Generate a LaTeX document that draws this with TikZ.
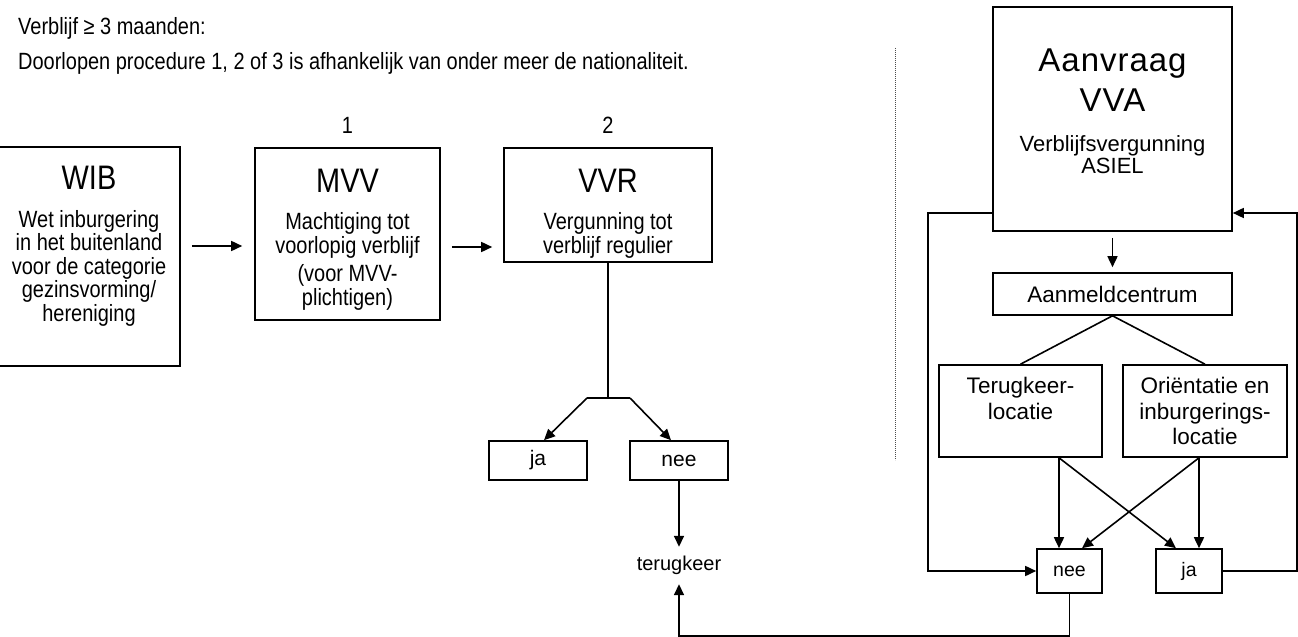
\documentclass[tikz,border=0pt]{standalone}
\usepackage{fontspec}
\setmainfont{Liberation Sans}
\newfontfamily\smalfont{Liberation Sans}[FakeStretch=0.85]
\newfontfamily\breedfont{Liberation Sans}[LetterSpace=3]
\usetikzlibrary{arrows.meta}
\tikzset{
  vak/.style={draw,line width=1.6bp,inner sep=0pt,align=center},
  links/.style={vak,font=\smalfont\fontsize{23.5bp}{23.5bp}\selectfont},
  rechts/.style={vak,font=\fontsize{22bp}{25.5bp}\selectfont},
  tekst/.style={inner sep=0pt,font=\smalfont\fontsize{23.5bp}{23.5bp}\selectfont},
  lijn/.style={line width=1.6bp},
  pijl/.style={lijn,-{Triangle[length=11bp,width=10bp]}}
}
\newcommand{\kop}[1]{{\fontsize{34bp}{34bp}\selectfont #1}}
\newcommand{\grootkop}[1]{{\breedfont\fontsize{33bp}{40bp}\selectfont #1}}

\begin{document}
\begin{tikzpicture}[x=1bp,y=-1bp]
      \useasboundingbox (0,0) rectangle (1298,637);

      % tekst boven
      \node[tekst,anchor=west] (regel1) at (18,28) {Verblijf ≥ 3 maanden:};
      \node[tekst,anchor=west] (regel2) at (18,63) {Doorlopen procedure 1, 2 of 3 is afhankelijk van onder meer de nationaliteit.};
      \node[tekst] (nr1) at (347.5,125) {1};
      \node[tekst] (nr2) at (608,125) {2};

      % regulier
      \node[links,minimum width=182bp,minimum height=219bp] (WIB) at (89,256.5)
        {\kop{WIB}\\[14bp] Wet inburgering\\ in het buitenland\\ voor de categorie\\ gezinsvorming/\\ hereniging\\[2bp]\mbox{}};
      \node[links,minimum width=185bp,minimum height=172bp] (MVV) at (347.5,234)
        {\kop{\rule{0pt}{34bp}MVV}\\[14bp] Machtiging tot\\ voorlopig verblijf\\[5bp] (voor MVV-\\ plichtigen)};
      \node[links,minimum width=208bp,minimum height=114bp] (VVR) at (608,205)
        {\kop{\rule{0pt}{40bp}VVR}\\[14bp] Vergunning tot\\ verblijf regulier};
      \node[vak,font=\fontsize{21bp}{24bp}\selectfont,minimum width=98bp,minimum height=39bp] (ja1) at (538,460.5) {ja};
      \node[vak,font=\fontsize{21bp}{24bp}\selectfont,minimum width=98bp,minimum height=39bp] (nee1) at (679,460.5) {nee};
      \node[inner sep=0pt,font=\fontsize{20bp}{24bp}\selectfont,minimum height=37bp] (terug) at (679,565.5) {terugkeer};
      \coordinate (splits) at (608,398);

      \draw[pijl] (WIB.east |- 0,246) ++(11,0) -- ([xshift=-12bp]MVV.west |- 0,246);
      \draw[pijl] (MVV.east |- 0,247) ++(11,0) -- ([xshift=-11bp]VVR.west |- 0,247);
      \draw[lijn] (VVR.south) -- (splits);
      \draw[lijn] ([xshift=-21bp]splits) -- ([xshift=22bp]splits);
      \draw[pijl] ([xshift=-21bp]splits) -- ([xshift=6bp]ja1.north);
      \draw[pijl] ([xshift=22bp]splits) -- ([xshift=-8bp]nee1.north);
      \draw[pijl] (nee1.south) -- (terug.north);

      % scheiding
      \draw[line width=0.8bp,black!70,dash pattern=on 1bp off 1bp] (895,48) -- (895,460);

      % asiel
      \node[rechts,minimum width=239bp,minimum height=224bp] (VVA) at (1112.5,119)
        {\grootkop{Aanvraag}\\[10.1bp] \grootkop{VVA}\\[14.5bp] Verblijfsvergunning\\[-3.5bp] ASIEL\\[-9.9bp]\mbox{}};
      \node[rechts,font=\fontsize{22.5bp}{25.5bp}\selectfont,minimum width=239bp,minimum height=42bp] (AMC) at (1112.5,294) {Aanmeldcentrum};
      \node[rechts,font=\fontsize{22.5bp}{25.5bp}\selectfont,minimum width=163bp,minimum height=92bp] (TKL) at (1020.5,411) {Terugkeer-\\ locatie\\ \mbox{}};
      \node[rechts,font=\fontsize{22.5bp}{25.5bp}\selectfont,minimum width=164bp,minimum height=92bp] (OIL) at (1205,411) {Oriëntatie en\\ inburgerings-\\ locatie};
      \node[rechts,font=\fontsize{19.5bp}{23bp}\selectfont,minimum width=65bp,minimum height=44bp] (nee2) at (1069.5,571) {nee};
      \node[rechts,font=\fontsize{19.5bp}{23bp}\selectfont,minimum width=66bp,minimum height=44bp] (ja2) at (1189,571) {ja};
      \coordinate (lusL) at (928,213);
      \coordinate (lusR) at (1297,213);
      \coordinate (onder) at (0,636);

      \draw[pijl,shorten <=6bp,shorten >=5bp] (VVA) -- (AMC);
      \draw[lijn] (TKL.north) -- (AMC.south) -- (OIL.north);
      \draw[pijl] ([xshift=38.5bp]TKL.south) -- ([xshift=-10.5bp]nee2.north);
      \draw[pijl] ([xshift=38.5bp]TKL.south) -- ([xshift=-13bp]ja2.north);
      \draw[pijl] ([xshift=-6bp]OIL.south) -- ([xshift=10bp]ja2.north);
      \draw[pijl] ([xshift=-6bp]OIL.south) -- ([xshift=12.5bp]nee2.north);
      \draw[pijl] (lusL -| VVA.west) -- (lusL) |- (nee2.west);
      \draw[pijl] (ja2.east) -| (lusR) -- (lusR -| VVA.east);
      \draw[pijl] (nee2.south) -- (nee2.south |- onder) -| (terug.south);
\end{tikzpicture}
\end{document}
